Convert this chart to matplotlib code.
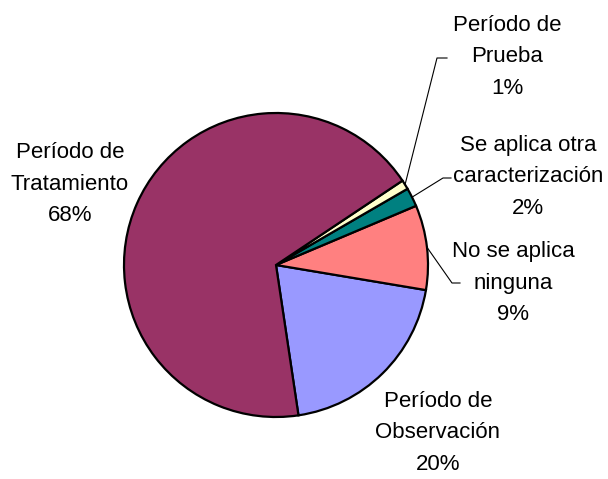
import matplotlib
matplotlib.use("Agg")
import matplotlib.pyplot as plt
import numpy as np

# datos del gráfico
etiquetas = ["Período de\nObservación", "No se aplica\nninguna",
             "Se aplica otra\ncaracterización", "Período de\nPrueba",
             "Período de\nTratamiento"]
valores = [20, 9, 2, 1, 68]
colores = ["#9999FF", "#FF8080", "#008080", "#FFFFCC", "#993366"]

plt.rcParams['font.family'] = ['Liberation Sans', 'DejaVu Sans']

W, H = 608, 479
cx, cy, r = 276, 265, 152  # centro y radio en pixeles


def px(x, y):
    # pixel -> coordenadas de datos
    return (x - cx) / r, (cy - y) / r


fig = plt.figure(figsize=(W / 100, H / 100), dpi=100)
ax = fig.add_axes([0, 0, 1, 1])

wedges, _ = ax.pie(valores, colors=colores, startangle=-81.5, counterclock=True,
                   radius=1, center=(0, 0), frame=True,
                   wedgeprops=dict(edgecolor='black', linewidth=1.6))
ax.set_xlim(-cx / r, (W - cx) / r)
ax.set_ylim(-(H - cy) / r, cy / r)
ax.set_aspect('auto')
ax.axis('off')

total = sum(valores)
# posicion del texto (pixeles) y codo de la linea guia
textos = {
    0: (438, 433, None),
    1: (513, 283, (452, 283, 460)),
    2: (528, 177, (443, 178, 451)),
    3: (507, 57, (437, 58, 447)),
    4: (70, 184, None),
}
for i, w in enumerate(wedges):
    pct = round(valores[i] / total * 100)
    tx, ty, guia = textos[i]
    x, y = px(tx, ty)
    ax.text(x, y, f"{etiquetas[i]}\n{pct}%", ha='center', va='center',
            fontsize=16, linespacing=1.63, color='black')
    if guia is not None:
        ang = np.deg2rad((w.theta1 + w.theta2) / 2)
        x0, y0 = np.cos(ang), np.sin(ang)
        ex, ey = px(guia[0], guia[1])
        hx, _ = px(guia[2], guia[1])
        ax.plot([x0, ex, hx], [y0, ey, ey], color='black', lw=0.8)

fig.savefig("out.png", dpi=100)
